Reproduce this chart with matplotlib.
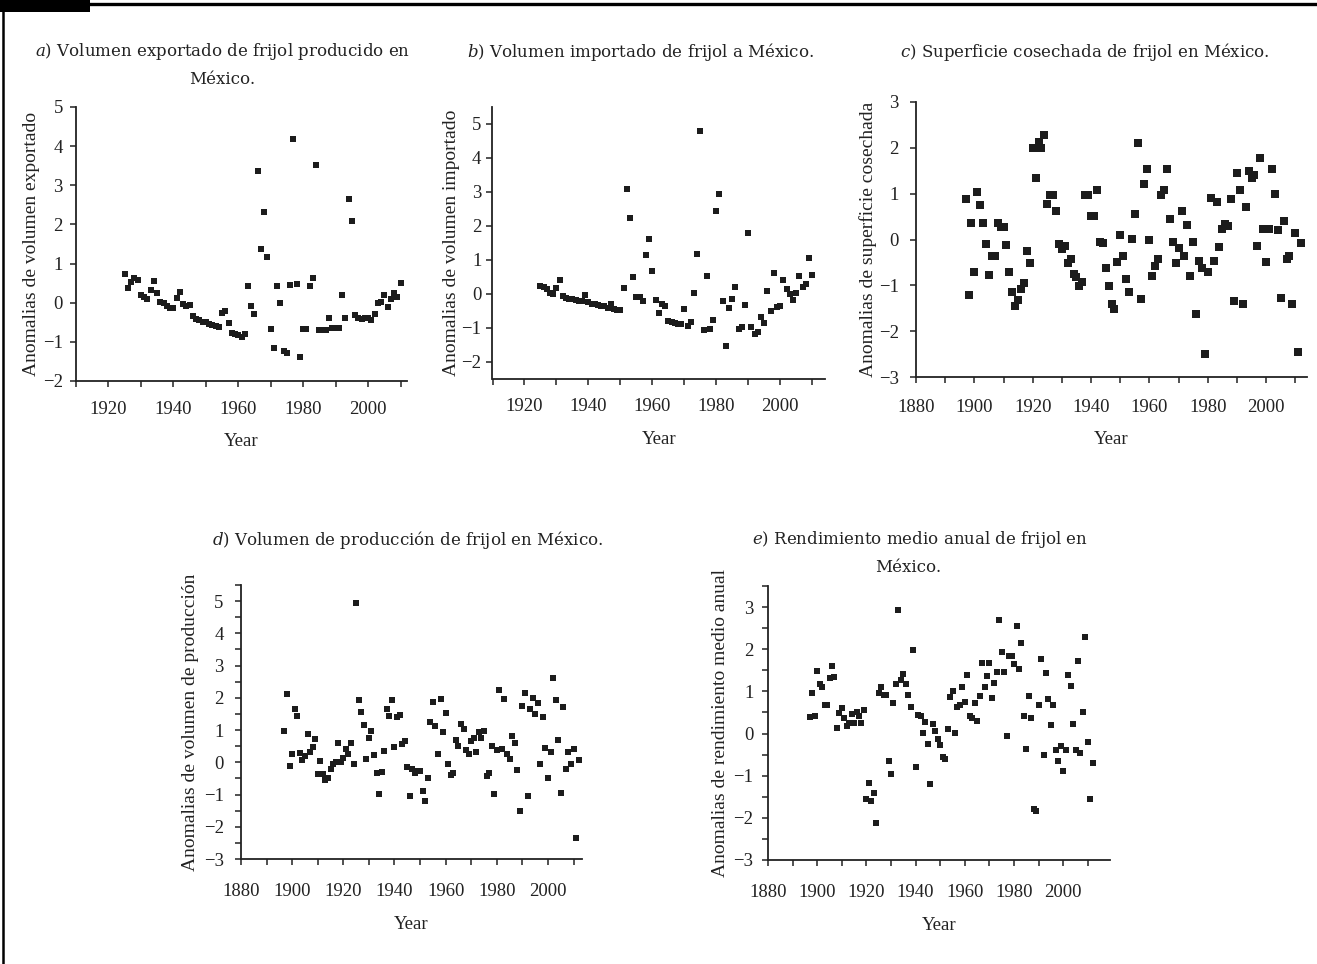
import numpy as np
import matplotlib
matplotlib.use("Agg")
import matplotlib.pyplot as plt
from matplotlib.ticker import MultipleLocator
from matplotlib.patches import Rectangle
from matplotlib.lines import Line2D

plt.rcParams['font.family'] = ['Liberation Serif', 'DejaVu Serif']
plt.rcParams['mathtext.fontset'] = 'dejavuserif'

# a) exported volume anomalies, 1925-2010
years_ab = np.arange(1925, 2011)
export_vals = [0.74, 0.37, 0.53, 0.63, 0.59, 0.20, 0.14, 0.10, 0.32, 0.56,
               0.24, 0.02, 0.00, -0.09, -0.14, -0.14, 0.13, 0.27, -0.04, -0.09,
               -0.07, -0.34, -0.42, -0.45, -0.48, -0.48, -0.55, -0.57, -0.60, -0.62,
               -0.27, -0.21, -0.51, -0.77, -0.80, -0.82, -0.88, -0.81, 0.43, -0.09,
               -0.28, 3.36, 1.36, 2.32, 1.18, -0.66, -1.16, 0.43, -0.02, -1.24,
               -1.29, 0.46, 4.19, 0.49, -1.38, -0.66, -0.66, 0.43, 0.62, 3.53,
               -0.69, -0.69, -0.69, -0.39, -0.65, -0.65, -0.64, 0.19, -0.39, 2.64,
               2.08, -0.32, -0.38, -0.42, -0.38, -0.39, -0.45, -0.28, -0.02, 0.02,
               0.20, -0.12, 0.09, 0.26, 0.15, 0.50]

# b) imported volume anomalies, 1925-2010
import_vals = [0.24, 0.20, 0.14, 0.02, -0.01, 0.18, 0.41, -0.07, -0.11, -0.14,
               -0.16, -0.18, -0.20, -0.20, -0.04, -0.25, -0.29, -0.30, -0.33, -0.35,
               -0.35, -0.40, -0.29, -0.44, -0.46, -0.46, 0.18, 3.09, 2.23, 0.49,
               -0.08, -0.08, -0.22, 1.14, 1.61, 0.68, -0.19, -0.56, -0.28, -0.35,
               -0.78, -0.81, -0.84, -0.87, -0.87, -0.44, -0.93, -0.82, 0.03, 1.19,
               4.80, -1.06, 0.54, -1.03, -0.76, 2.45, 2.95, -0.21, -1.52, -0.41,
               -0.14, 0.22, -1.03, -0.97, -0.32, 1.78, -0.97, -1.19, -1.13, -0.67,
               -0.86, 0.08, -0.51, 0.63, -0.39, -0.35, 0.40, 0.14, -0.01, -0.17,
               0.02, 0.54, 0.20, 0.29, 1.05, 0.56]

# c, d, e) 1897-2012
years_cde = np.arange(1897, 2013)
area_vals = [0.88, -1.20, 0.35, -0.70, 1.03, 0.75, 0.37, -0.09, -0.78, -0.35,
             -0.35, 0.37, 0.27, 0.28, -0.12, -0.70, -1.14, -1.45, -1.32, -1.07,
             -0.95, -0.25, -0.52, 2.00, 1.35, 2.12, 2.00, 2.27, 0.77, 0.97,
             0.97, 0.62, -0.10, -0.20, -0.14, -0.52, -0.42, -0.75, -0.82, -1.01,
             -0.92, 0.97, 0.97, 0.52, 0.52, 1.07, -0.05, -0.08, -0.63, -1.02,
             -1.40, -1.52, -0.48, 0.10, -0.36, -0.86, -1.15, 0.02, 0.56, 2.10,
             -1.29, 1.22, 1.53, 0.00, -0.80, -0.58, -0.43, 0.97, 1.07, 1.53,
             0.44, -0.06, -0.51, -0.18, 0.63, -0.36, 0.32, -0.80, -0.06, -1.62,
             -0.47, -0.63, -2.50, -0.70, 0.90, -0.47, 0.82, -0.16, 0.23, 0.34,
             0.29, 0.89, -1.35, 1.45, 1.09, -1.40, 0.71, 1.50, 1.35, 1.40,
             -0.15, 1.78, 0.22, -0.49, 0.22, 1.53, 1.00, 0.20, -1.27, 0.40,
             -0.42, -0.35, -1.40, 0.14, -2.46, -0.08]

prod_vals = [0.98, 2.12, -0.10, 0.27, 1.64, 1.44, 0.30, 0.06, 0.20, 0.89,
             0.32, 0.47, 0.73, -0.35, 0.03, -0.35, -0.56, -0.49, -0.20, -0.06,
             0.01, 0.59, 0.01, 0.12, 0.41, 0.27, 0.59, -0.06, 4.94, 1.93,
             1.55, 1.15, 0.10, 0.76, 0.98, 0.24, -0.34, -0.97, -0.29, 0.35,
             1.64, 1.44, 1.94, 0.47, 1.40, 1.47, 0.57, 0.67, -0.15, -1.05,
             -0.20, -0.33, -0.28, -0.28, -0.90, -1.20, -0.49, 1.26, 1.88, 1.12,
             0.26, 1.95, 0.95, 1.54, -0.04, -0.39, -0.32, 0.69, 0.50, 1.19,
             1.02, 0.37, 0.26, 0.65, 0.76, 0.33, 0.95, 0.76, 0.98, -0.42,
             -0.32, 0.51, -0.98, 0.39, 2.24, 0.42, 1.97, 0.25, 0.09, 0.81,
             0.59, -0.23, -1.52, 1.74, 2.16, -1.06, 1.66, 1.99, 1.51, 1.83,
             -0.04, 1.39, 0.45, -0.48, 0.32, 2.62, 1.93, 0.70, -0.94, 1.71,
             -0.20, 0.32, -0.04, 0.42, -2.35, 0.06]

yield_vals = [0.40, 0.97, 0.42, 1.49, 1.17, 1.11, 0.67, 0.67, 1.31, 1.60,
              1.34, 0.12, 0.49, 0.60, 0.36, 0.17, 0.25, 0.46, 0.25, 0.50,
              0.42, 0.26, 0.56, -1.56, -1.17, -1.60, -1.41, -2.12, 0.97, 1.10,
              0.92, 0.92, -0.66, -0.95, 0.72, 1.17, 2.94, 1.28, 1.41, 1.17,
              0.92, 0.64, 1.99, -0.79, 0.44, 0.42, 0.01, 0.27, -0.25, -1.20,
              0.22, 0.07, -0.13, -0.28, -0.55, -0.60, 0.11, 0.87, 1.02, 0.02,
              0.64, 0.68, 1.10, 0.75, 1.40, 0.42, 0.38, 0.72, 0.30, 0.90,
              1.67, 1.10, 1.37, 1.67, 0.84, 1.19, 1.47, 2.69, 1.94, 1.47,
              -0.05, 1.83, 1.85, 1.65, 2.56, 1.53, 2.15, 0.42, -0.37, 0.90,
              0.37, -1.79, -1.83, 0.67, 1.76, -0.50, 1.44, 0.82, 0.21, 0.67,
              -0.38, -0.65, -0.29, -0.89, -0.38, 1.40, 1.12, 0.22, -0.38, 1.72,
              -0.45, 0.52, 2.29, -0.19, -1.56, -0.70]

W, H = 1317, 964
fig = plt.figure(figsize=(W / 100, H / 100), dpi=100)
ink = '#1c1c1c'


def px_rect(x0, y_top, x1, y_bot):
    return [x0 / W, 1 - y_bot / H, (x1 - x0) / W, (y_bot - y_top) / H]


def panel(box, x, y, xlim, ylim, xfirst, ylabel, size, xpad, ypad, ylpad, minor_y):
    ax = fig.add_axes(px_rect(*box))
    ax.scatter(x, y, marker='s', s=size, color=ink, linewidths=0, zorder=3)
    ax.set_xlim(*xlim)
    ax.set_ylim(*ylim)
    ax.xaxis.set_minor_locator(MultipleLocator(10))
    ax.set_xticks(np.arange(xfirst, 2001, 20))
    ax.yaxis.set_major_locator(MultipleLocator(1))
    if minor_y:
        ax.yaxis.set_minor_locator(MultipleLocator(0.5))
    for s in ['top', 'right']:
        ax.spines[s].set_visible(False)
    for s in ['left', 'bottom']:
        ax.spines[s].set_linewidth(1.3)
        ax.spines[s].set_color('#222222')
    ax.tick_params(which='both', direction='out', length=4.5, width=1.1,
                   color='#222222', labelsize=13.5, labelcolor='#222222')
    ax.tick_params(axis='x', which='both', pad=xpad)
    ax.tick_params(axis='y', which='both', pad=ypad)
    ax.set_xlabel('Year', fontsize=13.5, color='#222222', labelpad=11)
    ax.set_ylabel(ylabel, fontsize=14, color='#222222', labelpad=ylpad)
    return ax


panel((76, 107, 407, 381), years_ab, export_vals, (1910, 2012), (-2, 5), 1920,
      'Anomalias de volumen exportado', 24, 10, 5, 2, False)
panel((492.5, 107, 825, 379), years_ab, import_vals, (1910, 2014), (-2.5, 5.5), 1920,
      'Anomalias de volumen importado', 24, 9.5, 3.5, 1, False)
panel((916, 102, 1307, 377), years_cde, area_vals, (1880, 2014), (-3, 3), 1880,
      'Anomalias de superficie cosechada', 28, 11.5, 8, 1, False)
panel((241, 585, 582, 859), years_cde, prod_vals, (1880, 2013.3), (-3, 5.5), 1880,
      'Anomalias de volumen de producción', 20, 13, 8, 3, True)
panel((768, 586, 1110, 860), years_cde, yield_vals, (1880, 2019), (-3, 3.5), 1880,
      'Anomalias de rendimiento medio anual', 20, 13, 6, 3, True)

titles = [
    (223, 52, r'$a$) Volumen exportado de frijol producido en'),
    (222, 80, 'México.'),
    (641, 52, r'$b$) Volumen importado de frijol a México.'),
    (1085, 52, r'$c$) Superficie cosechada de frijol en México.'),
    (408, 540, r'$d$) Volumen de producción de frijol en México.'),
    (920, 540, r'$e$) Rendimiento medio anual de frijol en'),
    (908, 568, 'México.'),
]
for tx, ty, t in titles:
    fig.text(tx / W, 1 - ty / H, t, ha='center', va='center',
             fontfamily='DejaVu Serif', fontsize=12, color='#222222')

# frame: black tab, top rule and left rule
fig.add_artist(Rectangle((0, 1 - 12 / H), 90 / W, 12 / H, transform=fig.transFigure,
                         facecolor='black', edgecolor='none'))
fig.add_artist(Line2D([0, 1], [1 - 4 / H, 1 - 4 / H], transform=fig.transFigure,
                      color='black', linewidth=2.4))
fig.add_artist(Line2D([3 / W, 3 / W], [0, 1], transform=fig.transFigure,
                      color='black', linewidth=1.8))

fig.savefig('out.png', dpi=100)
